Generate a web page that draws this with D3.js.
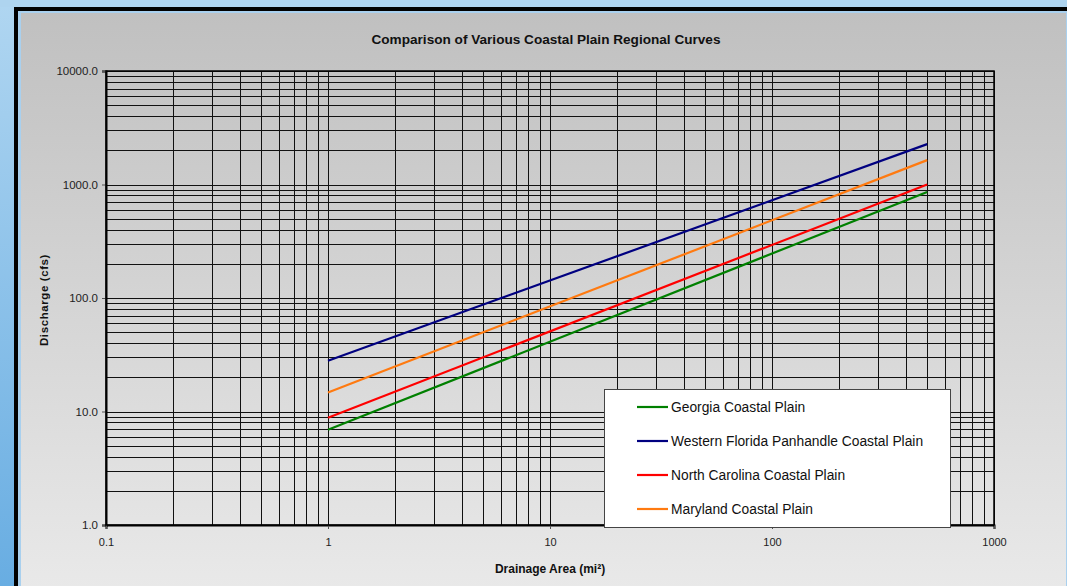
<!DOCTYPE html>
<html>
<head>
<meta charset="utf-8">
<script src="https://cdn.jsdelivr.net/npm/d3@7"></script>
<style>
  html, body { margin: 0; padding: 0; background: #aed4ef; }
  svg { display: block; }
  text { font-family: "Liberation Sans", Arial, sans-serif; }
</style>
</head>
<body>
<svg id="chart" width="1067" height="586"></svg>
<script>
// ---- data ----
const chartTitle = "Comparison of Various Coastal Plain Regional Curves";
const xTitle = "Drainage Area (mi\u00B2)";
const yTitle = "Discharge (cfs)";
const xTickValues = [0.1, 1, 10, 100, 1000];
const xTickLabels = ["0.1", "1", "10", "100", "1000"];
const yTickValues = [1, 10, 100, 1000, 10000];
const yTickLabels = ["1.0", "10.0", "100.0", "1000.0", "10000.0"];
const drainageArea = [1, 500];
const seriesNames = ["Georgia Coastal Plain", "Western Florida Panhandle Coastal Plain", "North Carolina Coastal Plain", "Maryland Coastal Plain"];
const georgia = [6.9, 860];
const westernFlorida = [28, 2270];
const northCarolina = [8.8, 1000];
const maryland = [14.7, 1640];
const seriesColors = ["#008000", "#000080", "#ff0000", "#ff7a10"];

const seriesValues = [georgia, westernFlorida, northCarolina, maryland];
const series = seriesNames.map((n, i) => ({
  name: n, color: seriesColors[i],
  points: drainageArea.map((a, j) => ({ x: a, y: seriesValues[i][j] }))
}));

const svg = d3.select("#chart");
const defs = svg.append("defs");

// page background (blue strip)
const bg = defs.append("linearGradient").attr("id", "bgGrad").attr("x1", 0).attr("y1", 0).attr("x2", 0).attr("y2", 1);
bg.append("stop").attr("offset", "0%").attr("stop-color", "#b0d6f1");
bg.append("stop").attr("offset", "100%").attr("stop-color", "#68ade2");
svg.append("rect").attr("width", 1067).attr("height", 586).attr("fill", "url(#bgGrad)");
svg.append("rect").attr("width", 1067).attr("height", 7).attr("fill", "#aed4ef");

// black frame
svg.append("rect").attr("x", 14).attr("y", 7).attr("width", 1100).attr("height", 700).attr("fill", "#000");
// inner light blue
svg.append("rect").attr("x", 18).attr("y", 11).attr("width", 1100).attr("height", 700).attr("fill", "#a9d0ee");

// chart area gradient
const cg = defs.append("linearGradient").attr("id", "chartGrad").attr("x1", 0).attr("y1", 0).attr("x2", 0).attr("y2", 1);
cg.append("stop").attr("offset", "0%").attr("stop-color", "#c0c0c0");
cg.append("stop").attr("offset", "100%").attr("stop-color", "#eaeaea");
svg.append("rect").attr("x", 21).attr("y", 13).attr("width", 1045).attr("height", 590).attr("fill", "url(#chartGrad)");

// scales
const x = d3.scaleLog().domain([0.1, 1000]).range([106, 994]);
const y = d3.scaleLog().domain([1, 10000]).range([525, 71]);

// grid values
const gridX = [], gridY = [];
for (let k = -1; k < 3; k++) for (let m = 1; m <= 9; m++) gridX.push(m * Math.pow(10, k));
gridX.push(1000);
for (let k = 0; k < 4; k++) for (let m = 1; m <= 9; m++) gridY.push(m * Math.pow(10, k));
gridY.push(10000);

const grid = svg.append("g").attr("shape-rendering", "crispEdges");
grid.selectAll("line.v").data(gridX).join("line")
  .attr("x1", d => Math.round(x(d)) + 0.5).attr("x2", d => Math.round(x(d)) + 0.5)
  .attr("y1", y(10000)).attr("y2", y(1))
  .attr("stroke", "#111").attr("stroke-width", 1);
grid.selectAll("line.h").data(gridY).join("line")
  .attr("y1", d => Math.round(y(d)) + 0.5).attr("y2", d => Math.round(y(d)) + 0.5)
  .attr("x1", x(0.1)).attr("x2", x(1000))
  .attr("stroke", "#111").attr("stroke-width", 1);

// series lines
const line = d3.line().x(d => x(d.x)).y(d => y(d.y));
svg.append("g").selectAll("path").data(series).join("path")
  .attr("d", d => line(d.points))
  .attr("fill", "none").attr("stroke", d => d.color).attr("stroke-width", 2.2);

// axes
const yAxis = d3.axisLeft(y).tickValues(yTickValues).tickSize(4).tickPadding(4)
  .tickFormat((d, i) => yTickLabels[i]);
const gy = svg.append("g").attr("transform", `translate(${x(0.1)},0)`).call(yAxis);
gy.select(".domain").attr("stroke", "#000").attr("stroke-width", 2);
gy.selectAll(".tick line").attr("stroke", "#555");
gy.selectAll("text").attr("font-size", "11.5px").attr("fill", "#222").attr("font-family", "Liberation Sans, Arial, sans-serif");

const xAxis = d3.axisBottom(x).tickValues(xTickValues).tickSize(4).tickPadding(9)
  .tickFormat((d, i) => xTickLabels[i]);
const gx = svg.append("g").attr("transform", `translate(0,${y(1)})`).call(xAxis);
gx.select(".domain").attr("stroke", "#000").attr("stroke-width", 2);
gx.selectAll(".tick line").attr("stroke", "#555");
gx.selectAll("text").attr("font-size", "11px").attr("fill", "#222").attr("font-family", "Liberation Sans, Arial, sans-serif");

// top & right border of plot
svg.append("rect").attr("x", x(0.1)).attr("y", y(10000)).attr("width", x(1000) - x(0.1)).attr("height", y(1) - y(10000))
  .attr("fill", "none").attr("stroke", "#000").attr("stroke-width", 1.5);

// titles
svg.append("text").attr("x", 546).attr("y", 44).attr("text-anchor", "middle")
  .attr("font-size", "13.6px").attr("font-weight", "bold").attr("fill", "#111").text(chartTitle);
svg.append("text").attr("x", 550).attr("y", 573).attr("text-anchor", "middle")
  .attr("font-size", "12px").attr("font-weight", "bold").attr("fill", "#111").text(xTitle);
svg.append("text").attr("transform", "translate(48,300) rotate(-90)").attr("text-anchor", "middle")
  .attr("font-size", "11.5px").attr("font-weight", "bold").attr("letter-spacing", "0.6px").attr("fill", "#111").text(yTitle);

// legend
const lg = svg.append("g");
lg.append("rect").attr("x", 604.5).attr("y", 389.5).attr("width", 346).attr("height", 138)
  .attr("fill", "#fff").attr("stroke", "#444").attr("stroke-width", 1);
const rows = lg.selectAll("g.row").data(series).join("g")
  .attr("transform", (d, i) => `translate(0,${407 + i * 34})`);
rows.append("line").attr("x1", 637).attr("x2", 668).attr("y1", 0).attr("y2", 0)
  .attr("stroke", d => d.color).attr("stroke-width", 2.2);
rows.append("text").attr("x", 671).attr("y", 0).attr("dy", "0.35em")
  .attr("font-size", "13.8px").attr("fill", "#111").text(d => d.name);
</script>
</body>
</html>
